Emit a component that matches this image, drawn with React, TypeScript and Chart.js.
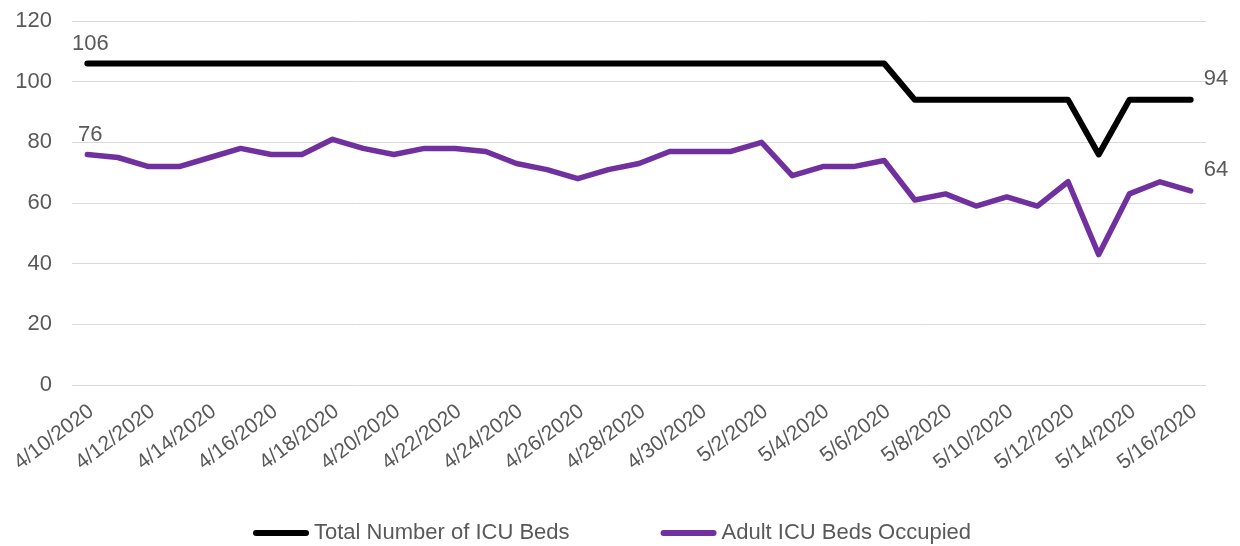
import React, { useEffect, useRef } from 'react';
import { Chart, registerables } from 'chart.js';

Chart.register(...registerables);

const dates = [
  '4/10/2020', '4/11/2020', '4/12/2020', '4/13/2020', '4/14/2020', '4/15/2020', '4/16/2020',
  '4/17/2020', '4/18/2020', '4/19/2020', '4/20/2020', '4/21/2020', '4/22/2020', '4/23/2020',
  '4/24/2020', '4/25/2020', '4/26/2020', '4/27/2020', '4/28/2020', '4/29/2020', '4/30/2020',
  '5/1/2020', '5/2/2020', '5/3/2020', '5/4/2020', '5/5/2020', '5/6/2020', '5/7/2020',
  '5/8/2020', '5/9/2020', '5/10/2020', '5/11/2020', '5/12/2020', '5/13/2020', '5/14/2020',
  '5/15/2020', '5/16/2020',
];

const totalBeds = [
  106, 106, 106, 106, 106, 106, 106, 106, 106, 106, 106, 106, 106, 106, 106, 106, 106, 106, 106,
  106, 106, 106, 106, 106, 106, 106, 106, 94, 94, 94, 94, 94, 94, 76, 94, 94, 94,
];

const occupiedBeds = [
  76, 75, 72, 72, 75, 78, 76, 76, 81, 78, 76, 78, 78, 77, 73, 71, 68, 71, 73,
  77, 77, 77, 80, 69, 72, 72, 74, 61, 63, 59, 62, 59, 67, 43, 63, 67, 64,
];

const seriesNames = ['Total Number of ICU Beds', 'Adult ICU Beds Occupied'];
const seriesColors = ['#000000', '#7030A0'];

const Y_MIN = 0;
const Y_MAX = 120;
const Y_STEP = 20;

const FONT_FAMILY = '"Liberation Sans", Arial, sans-serif';
const TEXT_COLOR = '#595959';

const dataLabelsPlugin = {
  id: 'endDataLabels',
  afterDatasetsDraw(chart: any) {
    const ctx = chart.ctx;
    ctx.save();
    ctx.font = `22px ${FONT_FAMILY}`;
    ctx.fillStyle = TEXT_COLOR;
    chart.data.datasets.forEach((ds: any, di: number) => {
      const meta = chart.getDatasetMeta(di);
      const pts = meta.data;
      if (!pts.length) return;
      const first = pts[0];
      const last = pts[pts.length - 1];
      ctx.textBaseline = 'alphabetic';
      ctx.textAlign = 'center';
      ctx.fillText(String(ds.data[0]), first.x + 3, first.y - 13);
      ctx.textAlign = 'left';
      ctx.fillText(String(ds.data[ds.data.length - 1]), last.x + 13, last.y - 15);
    });
    ctx.restore();
  },
};

const legendPlugin = {
  id: 'customLegend',
  afterDraw(chart: any) {
    const ctx = chart.ctx;
    ctx.save();
    ctx.font = `22px ${FONT_FAMILY}`;
    const lineLen = 56;
    const textGap = 5;
    const itemGap = 91;
    const items = chart.data.datasets.map((ds: any) => ({
      label: ds.label,
      color: ds.borderColor,
      w: ctx.measureText(ds.label).width,
    }));
    let total = 0;
    items.forEach((it: any, i: number) => {
      total += lineLen + textGap + it.w + (i < items.length - 1 ? itemGap : 0);
    });
    let x = chart.width / 2 - 8 - total / 2;
    const y = chart.height - 13;
    items.forEach((it: any) => {
      ctx.beginPath();
      ctx.strokeStyle = it.color;
      ctx.lineWidth = 6;
      ctx.lineCap = 'round';
      ctx.moveTo(x + 3, y);
      ctx.lineTo(x + lineLen - 3, y);
      ctx.stroke();
      x += lineLen + textGap;
      ctx.fillStyle = TEXT_COLOR;
      ctx.textAlign = 'left';
      ctx.textBaseline = 'middle';
      ctx.fillText(it.label, x, y);
      x += it.w + itemGap;
    });
    ctx.restore();
  },
};

export default function App() {
  const canvasRef = useRef<HTMLCanvasElement | null>(null);

  useEffect(() => {
    if (!canvasRef.current) return;
    const chart = new Chart(canvasRef.current, {
      type: 'line',
      data: {
        labels: dates,
        datasets: [
          {
            label: seriesNames[0],
            data: totalBeds,
            borderColor: seriesColors[0],
            backgroundColor: seriesColors[0],
            borderWidth: 6,
            borderCapStyle: 'round',
            borderJoinStyle: 'round',
            pointRadius: 0,
            tension: 0,
          },
          {
            label: seriesNames[1],
            data: occupiedBeds,
            borderColor: seriesColors[1],
            backgroundColor: seriesColors[1],
            borderWidth: 5.5,
            borderCapStyle: 'round',
            borderJoinStyle: 'round',
            pointRadius: 0,
            tension: 0,
          },
        ],
      },
      options: {
        animation: false,
        responsive: true,
        maintainAspectRatio: false,
        layout: { padding: { top: 21, right: 34, bottom: 30, left: 0 } },
        plugins: {
          legend: { display: false },
          tooltip: { enabled: false },
        },
        scales: {
          x: {
            type: 'category',
            offset: true,
            grid: { display: false, drawTicks: false },
            border: { display: false },
            ticks: {
              autoSkip: false,
              maxRotation: 37,
              minRotation: 37,
              padding: 14,
              labelOffset: 4,
              color: TEXT_COLOR,
              font: { family: FONT_FAMILY, size: 21 },
              callback: function (this: any, value: any, index: number) {
                return index % 2 === 0 ? this.getLabelForValue(value) : '';
              },
            },
            afterFit: (scale: any) => {
              scale.height = 131;
              scale.paddingLeft = 0;
              scale.paddingRight = 0;
            },
          },
          y: {
            min: Y_MIN,
            max: Y_MAX,
            grid: {
              color: '#d9d9d9',
              lineWidth: 1,
              drawTicks: true,
              tickLength: 20,
              tickColor: 'rgba(0,0,0,0)',
            },
            border: { display: false },
            ticks: {
              stepSize: Y_STEP,
              padding: 0,
              color: TEXT_COLOR,
              font: { family: FONT_FAMILY, size: 22 },
            },
            afterFit: (scale: any) => {
              scale.width = 72;
            },
          },
        },
      },
      plugins: [dataLabelsPlugin, legendPlugin],
    });
    return () => chart.destroy();
  }, []);

  return (
    <div style={{ position: 'fixed', left: 0, top: 0, width: 1240, height: 546, background: '#fff' }}>
      <canvas ref={canvasRef} />
    </div>
  );
}
